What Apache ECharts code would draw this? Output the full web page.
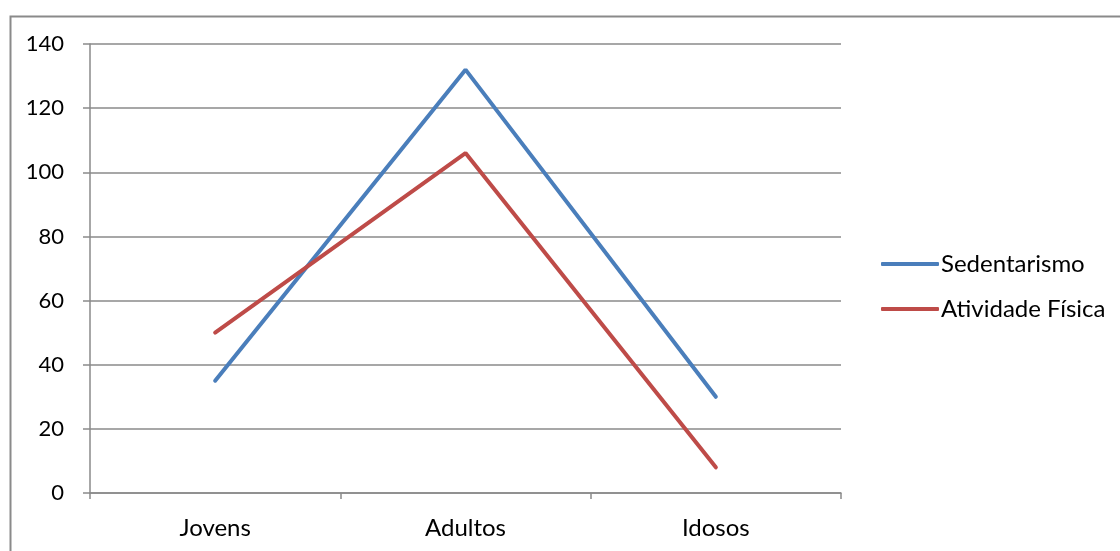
<!DOCTYPE html>
<html>
<head>
<meta charset="utf-8">
<script src="https://cdn.jsdelivr.net/npm/echarts@6/dist/echarts.min.js"></script>
<style>
  html, body { margin: 0; padding: 0; background: #fff; }
  #chart { width: 1120px; height: 551px; }
</style>
</head>
<body>
<div id="chart"></div>
<script>
// Age groups and the two series plotted across them
const categories = ['Jovens', 'Adultos', 'Idosos'];
const sedentarismo = [35, 132, 30];
const atividadeFisica = [50, 106, 8];
const seriesNames = ['Sedentarismo', 'Atividade Física'];

const FONT = 'Lato, "Open Sans", sans-serif';
const GRID_COLOR = '#8a8a8a';

const chart = echarts.init(document.getElementById('chart'), null, { renderer: 'canvas' });

chart.setOption({
  animation: false,
  backgroundColor: '#ffffff',
  textStyle: { fontFamily: FONT },
  graphic: [{
    type: 'rect',
    left: 8, top: 14,
    shape: { width: 1200, height: 600 },
    style: { fill: 'none', stroke: GRID_COLOR, lineWidth: 2 },
    silent: true
  }],
  grid: { left: 90, right: 279, top: 44, bottom: 58 },
  legend: {
    orient: 'vertical',
    left: 876,
    top: 247,
    itemWidth: 58,
    itemHeight: 4,
    itemGap: 21,
    icon: 'roundRect',
    textStyle: { fontSize: 24, color: '#000', fontFamily: FONT, padding: [0, 0, 0, -3] },
    data: seriesNames
  },
  xAxis: {
    type: 'category',
    data: categories,
    boundaryGap: true,
    axisLine: { lineStyle: { color: GRID_COLOR, width: 1.5 } },
    axisTick: { show: true, length: 6, lineStyle: { color: GRID_COLOR, width: 1.5 } },
    axisLabel: { fontSize: 24, color: '#000', margin: 23, fontFamily: FONT },
    splitLine: { show: false }
  },
  yAxis: {
    type: 'value',
    min: 0, max: 140, interval: 20,
    axisLine: { show: true, lineStyle: { color: GRID_COLOR, width: 1.5 } },
    axisTick: { show: true, length: 7, lineStyle: { color: GRID_COLOR, width: 1.5 } },
    axisLabel: { fontSize: 22, color: '#000', margin: 26, fontFamily: FONT },
    splitLine: { show: true, lineStyle: { color: GRID_COLOR, width: 1.5 } }
  },
  series: [
    {
      name: seriesNames[0],
      type: 'line',
      data: sedentarismo,
      symbol: 'none',
      color: '#4a7ebb',
      lineStyle: { width: 4, color: '#4a7ebb', cap: 'round' }
    },
    {
      name: seriesNames[1],
      type: 'line',
      data: atividadeFisica,
      symbol: 'none',
      color: '#be4b48',
      lineStyle: { width: 4, color: '#be4b48', cap: 'round' }
    }
  ]
});
</script>
</body>
</html>
